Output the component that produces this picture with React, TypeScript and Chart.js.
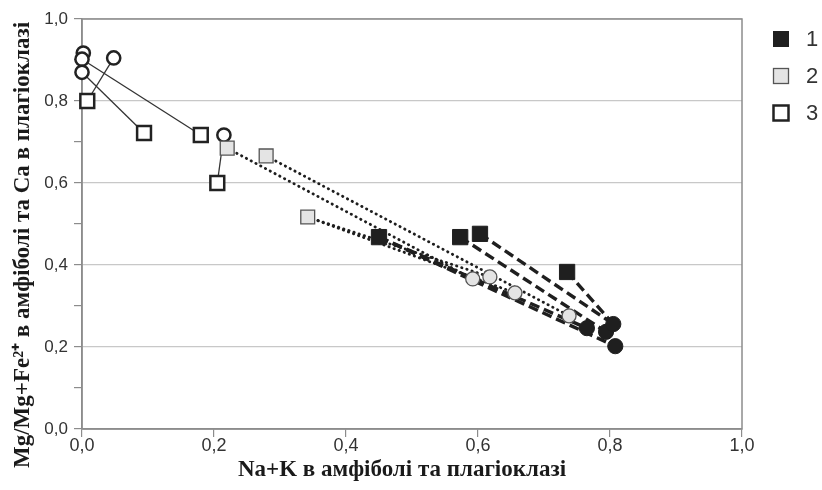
import React, { useEffect, useRef } from 'react';
import { Chart, registerables } from 'chart.js';

Chart.register(...registerables);

// ---- axis / text content ----
const X_TICK_VALUES = [0, 0.2, 0.4, 0.6, 0.8, 1.0];
const Y_TICK_VALUES = [0, 0.1, 0.2, 0.3, 0.4, 0.5, 0.6, 0.7, 0.8, 0.9, 1.0];
const Y_LABELED = [0, 0.2, 0.4, 0.6, 0.8, 1.0];
const LEGEND_LABELS = ['1', '2', '3'];
const X_TITLE = 'Na+K в амфіболі та плагіоклазі';
const Y_TITLE = 'Mg/Mg+Fe²⁺ в амфіболі та Са в плагіоклазі';

// ---- series 1 (black squares -> black circles, dashed) ----
const S1_SQUARE_X = [0.45, 0.573, 0.603, 0.735];
const S1_SQUARE_Y = [0.468, 0.468, 0.476, 0.383];
const S1_CIRCLE_X = [0.765, 0.794, 0.805, 0.808];
const S1_CIRCLE_Y = [0.246, 0.237, 0.256, 0.202];
const S1_TIES = [[0, 0], [0, 3], [1, 1], [2, 2], [3, 2]];

// ---- series 2 (grey squares -> grey circles, dotted) ----
const S2_SQUARE_X = [0.22, 0.279, 0.342];
const S2_SQUARE_Y = [0.685, 0.666, 0.517];
const S2_CIRCLE_X = [0.592, 0.618, 0.656, 0.738];
const S2_CIRCLE_Y = [0.366, 0.371, 0.332, 0.276];
const S2_TIES = [[0, 0], [1, 3], [2, 1], [2, 2]];

// ---- series 3 (open squares <- open circles, solid) ----
const S3_SQUARE_X = [0.008, 0.094, 0.18, 0.205];
const S3_SQUARE_Y = [0.8, 0.722, 0.717, 0.6];
const S3_CIRCLE_X = [0.002, 0.0, 0.0, 0.048, 0.215];
const S3_CIRCLE_Y = [0.917, 0.902, 0.87, 0.905, 0.717];
const S3_TIES = [[2, 1], [1, 2], [0, 3], [3, 4]];

const pts = (xs: number[], ys: number[]) => xs.map((x, i) => ({ x, y: ys[i] }));
const fmt = (v: number) => v.toFixed(1).replace('.', ',');
const isLabeled = (v: number) => Y_LABELED.some((m) => Math.abs(m - v) < 1e-6);

const STYLE = {
  s1: { fill: '#1f1f1f', border: '#1f1f1f', bw: 1, sq: 10.8, ci: 7.6, line: '#1f1f1f', lw: 3.4, dash: [10, 5], cap: 'butt' },
  s2: { fill: '#e4e4e4', border: '#555555', bw: 1.3, sq: 9.8, ci: 7, line: '#1e1e1e', lw: 2.8, dash: [0.4, 5], cap: 'round' },
  s3: { fill: '#ffffff', border: '#222222', bw: 2.5, sq: 9.8, ci: 6.6, line: '#333333', lw: 1.3, dash: [] as number[], cap: 'butt' },
};

function buildSeries(
  key: 's1' | 's2' | 's3',
  sqX: number[], sqY: number[], ciX: number[], ciY: number[], ties: number[][],
  ptOrder: number,
) {
  const st = STYLE[key];
  const sq = pts(sqX, sqY);
  const ci = pts(ciX, ciY);
  const lines = ties.map(([a, b]) => ({
    type: 'scatter' as const,
    data: [sq[a], ci[b]],
    showLine: true,
    borderColor: st.line,
    borderWidth: st.lw,
    borderDash: st.dash,
    borderCapStyle: st.cap,
    pointRadius: 0,
    order: 5,
    clip: false,
  }));
  const squares = {
    type: 'scatter' as const,
    data: sq,
    pointStyle: 'rect',
    pointRadius: st.sq,
    pointBackgroundColor: st.fill,
    pointBorderColor: st.border,
    pointBorderWidth: st.bw,
    order: ptOrder,
    clip: false,
  };
  const circles = {
    type: 'scatter' as const,
    data: ci,
    pointStyle: 'circle',
    pointRadius: st.ci,
    pointBackgroundColor: st.fill,
    pointBorderColor: st.border,
    pointBorderWidth: st.bw,
    order: ptOrder,
    clip: false,
  };
  return [...lines, squares, circles];
}

const decorPlugin = {
  id: 'decor',
  beforeDatasetsDraw(chart: any) {
    const { ctx, chartArea } = chart;
    ctx.save();
    ctx.strokeStyle = '#8c8c8c';
    ctx.lineWidth = 1.5;
    ctx.strokeRect(chartArea.left, chartArea.top, chartArea.right - chartArea.left, chartArea.bottom - chartArea.top);
    ctx.restore();
  },
  afterDraw(chart: any) {
    const { ctx } = chart;
    ctx.save();
    // axis titles
    ctx.fillStyle = '#1a1a1a';
    ctx.textAlign = 'center';
    ctx.textBaseline = 'middle';
    ctx.font = 'bold 23px "Liberation Serif", "Times New Roman", serif';
    ctx.fillText(X_TITLE, 402, 470);
    ctx.save();
    ctx.translate(23, 245);
    ctx.rotate(-Math.PI / 2);
    ctx.font = 'bold 23px "Liberation Serif", "Times New Roman", serif';
    ctx.fillText(Y_TITLE, 0, 0);
    ctx.restore();
    // legend
    const items = [STYLE.s1, STYLE.s2, STYLE.s3];
    const ys = [39, 76, 113];
    items.forEach((st, i) => {
      const cx = 781;
      const cy = ys[i];
      const half = 7.5;
      ctx.fillStyle = st.fill;
      ctx.fillRect(cx - half, cy - half, half * 2, half * 2);
      ctx.strokeStyle = st.border;
      ctx.lineWidth = st.bw;
      ctx.strokeRect(cx - half, cy - half, half * 2, half * 2);
      ctx.fillStyle = '#333333';
      ctx.textAlign = 'left';
      ctx.textBaseline = 'middle';
      ctx.font = '22px "Liberation Sans", Arial, sans-serif';
      ctx.fillText(LEGEND_LABELS[i], 806, cy + 1);
    });
    ctx.restore();
  },
};

export default function App() {
  const ref = useRef<HTMLCanvasElement | null>(null);

  useEffect(() => {
    document.body.style.margin = '0';
    const canvas = ref.current;
    if (!canvas) return;
    const datasets = [
      ...buildSeries('s1', S1_SQUARE_X, S1_SQUARE_Y, S1_CIRCLE_X, S1_CIRCLE_Y, S1_TIES, 1),
      ...buildSeries('s2', S2_SQUARE_X, S2_SQUARE_Y, S2_CIRCLE_X, S2_CIRCLE_Y, S2_TIES, 0),
      ...buildSeries('s3', S3_SQUARE_X, S3_SQUARE_Y, S3_CIRCLE_X, S3_CIRCLE_Y, S3_TIES, 1),
    ];
    const chart = new Chart(canvas, {
      type: 'scatter',
      data: { datasets: datasets as any },
      plugins: [decorPlugin],
      options: {
        animation: false,
        responsive: false,
        devicePixelRatio: 1,
        layout: { padding: { top: 19, right: 80, left: 0, bottom: 0 } },
        plugins: { legend: { display: false }, tooltip: { enabled: false } },
        scales: {
          x: {
            type: 'linear',
            min: 0,
            max: 1,
            afterFit: (s: any) => { s.height = 61; },
            afterBuildTicks: (s: any) => { s.ticks = X_TICK_VALUES.map((v) => ({ value: v })); },
            ticks: {
              callback: (v: any) => fmt(Number(v)),
              color: '#333333',
              padding: -2,
              maxRotation: 0,
              autoSkip: false,
              font: { family: '"Liberation Sans Narrow", "Liberation Sans", Arial, sans-serif', size: 18 },
            },
            grid: { color: 'transparent', tickColor: '#8c8c8c', tickLength: 8, lineWidth: 1.2 },
            border: { color: '#8c8c8c', width: 1.5 },
          },
          y: {
            type: 'linear',
            min: 0,
            max: 1,
            afterFit: (s: any) => { s.width = 82; },
            afterBuildTicks: (s: any) => { s.ticks = Y_TICK_VALUES.map((v) => ({ value: v })); },
            ticks: {
              callback: (v: any) => (isLabeled(Number(v)) ? fmt(Number(v)) : ''),
              color: '#333333',
              padding: 6,
              autoSkip: false,
              font: { family: '"Liberation Sans", Arial, sans-serif', size: 17 },
            },
            grid: {
              color: (c: any) => (c.tick && isLabeled(c.tick.value) && c.tick.value > 0 ? '#c8c8c8' : 'transparent'),
              tickColor: '#8c8c8c',
              tickLength: 8,
              lineWidth: 1.2,
            },
            border: { color: '#8c8c8c', width: 1.5 },
          },
        },
      } as any,
    });
    return () => chart.destroy();
  }, []);

  return (
    <div style={{ width: 822, height: 490, background: '#ffffff' }}>
      <canvas ref={ref} width={822} height={490} />
    </div>
  );
}
